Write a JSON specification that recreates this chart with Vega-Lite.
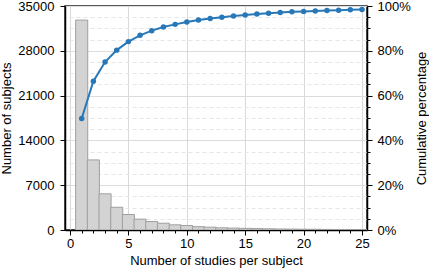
{
  "$schema": "https://vega.github.io/schema/vega-lite/v6.json",
  "width": 302,
  "height": 224,
  "autosize": {"type": "none"},
  "padding": {"left": 65, "top": 6, "right": 62, "bottom": 40},
  "background": "white",
  "config": {
    "view": {"stroke": "#222", "strokeWidth": 1.5},
    "axis": {
      "labelFont": "Liberation Sans",
      "titleFont": "Liberation Sans",
      "labelFontSize": 13,
      "titleFontSize": 13,
      "titleFontWeight": "normal",
      "labelColor": "#000",
      "titleColor": "#000",
      "domainColor": "#000",
      "domainWidth": 1.5,
      "tickColor": "#000",
      "tickWidth": 1,
      "labelOverlap": false
    }
  },
  "data": {
    "values": [
      {"studies": 1, "subjects": 32800, "cumulative": 0.498},
      {"studies": 2, "subjects": 10950, "cumulative": 0.664},
      {"studies": 3, "subjects": 5650, "cumulative": 0.750},
      {"studies": 4, "subjects": 3550, "cumulative": 0.803},
      {"studies": 5, "subjects": 2420, "cumulative": 0.841},
      {"studies": 6, "subjects": 1700, "cumulative": 0.869},
      {"studies": 7, "subjects": 1330, "cumulative": 0.890},
      {"studies": 8, "subjects": 1060, "cumulative": 0.906},
      {"studies": 9, "subjects": 810, "cumulative": 0.918},
      {"studies": 10, "subjects": 700, "cumulative": 0.929},
      {"studies": 11, "subjects": 520, "cumulative": 0.937},
      {"studies": 12, "subjects": 440, "cumulative": 0.944},
      {"studies": 13, "subjects": 340, "cumulative": 0.950},
      {"studies": 14, "subjects": 300, "cumulative": 0.955},
      {"studies": 15, "subjects": 260, "cumulative": 0.960},
      {"studies": 16, "subjects": 220, "cumulative": 0.964},
      {"studies": 17, "subjects": 190, "cumulative": 0.968},
      {"studies": 18, "subjects": 160, "cumulative": 0.971},
      {"studies": 19, "subjects": 140, "cumulative": 0.974},
      {"studies": 20, "subjects": 120, "cumulative": 0.976},
      {"studies": 21, "subjects": 110, "cumulative": 0.978},
      {"studies": 22, "subjects": 95, "cumulative": 0.980},
      {"studies": 23, "subjects": 80, "cumulative": 0.981},
      {"studies": 24, "subjects": 70, "cumulative": 0.983},
      {"studies": 25, "subjects": 60, "cumulative": 0.984}
    ]
  },
  "encoding": {
    "x": {
      "field": "studies",
      "type": "quantitative",
      "scale": {"domain": [0, 25], "nice": false, "zero": false},
      "axis": {
        "title": "Number of studies per subject",
        "values": [0,1,2,3,4,5,6,7,8,9,10,11,12,13,14,15,16,17,18,19,20,21,22,23,24,25],
        "labelExpr": "datum.value % 5 === 0 ? datum.label : ''",
        "tickSize": {"condition": {"test": "datum.value % 5 === 0", "value": 5}, "value": 3},
        "grid": true,
        "gridColor": "#d9d9d9",
        "gridWidth": 1,
        "gridOpacity": {"condition": {"test": "datum.value % 5 === 0", "value": 1}, "value": 0},
        "labelPadding": 2,
        "titlePadding": 4,
        "labelFlush": false,
        "labelOverlap": false
      }
    }
  },
  "layer": [
    {
      "mark": {"type": "bar", "fill": "#d3d3d3", "stroke": "#9f9f9f", "strokeWidth": 1, "width": 12.08, "clip": true},
      "encoding": {
        "y": {
          "field": "subjects",
          "type": "quantitative",
          "scale": {"domain": [0, 35000], "nice": false},
          "axis": {
            "title": "Number of subjects",
            "orient": "left",
            "values": [0, 7000, 14000, 21000, 28000, 35000],
            "format": "d",
            "grid": false,
            "tickSize": 5,
            "labelPadding": 6,
            "titlePadding": 4
          }
        }
      }
    },
    {
      "mark": {
        "type": "line",
        "color": "#2878b8",
        "strokeWidth": 2,
        "point": {"filled": true, "size": 30, "color": "#2878b8"}
      },
      "encoding": {
        "y": {
          "field": "cumulative",
          "type": "quantitative",
          "scale": {"domain": [0, 1], "nice": false},
          "axis": {
            "title": "Cumulative percentage",
            "orient": "right",
            "titleAngle": 270,
            "titleBaseline": "top",
            "values": [0,0.05,0.1,0.15,0.2,0.25,0.3,0.35,0.4,0.45,0.5,0.55,0.6,0.65,0.7,0.75,0.8,0.85,0.9,0.95,1],
            "format": ".0%",
            "labelExpr": "abs(datum.value*5 - round(datum.value*5)) < 0.001 ? datum.label : ''",
            "tickSize": {"condition": {"test": "abs(datum.value*5 - round(datum.value*5)) < 0.001", "value": 5}, "value": 3},
            "grid": true,
            "gridColor": {"condition": {"test": "abs(datum.value*5 - round(datum.value*5)) < 0.001", "value": "#dcdcdc"}, "value": "#e6e6e6"},
            "gridDash": {"condition": {"test": "abs(datum.value*5 - round(datum.value*5)) < 0.001", "value": []}, "value": [4, 3]},
            "gridWidth": 1,
            "labelPadding": 5,
            "titlePadding": 5,
            "labelOverlap": false
          }
        }
      }
    }
  ],
  "resolve": {"scale": {"y": "independent"}}
}
